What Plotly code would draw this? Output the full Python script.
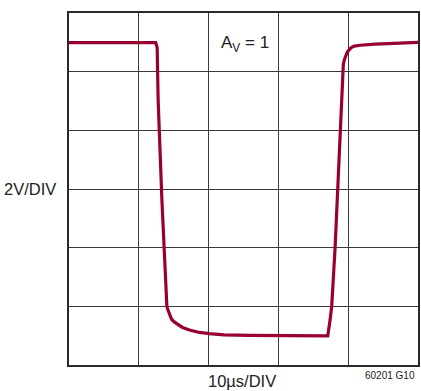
import plotly.graph_objects as go

# Scope trace: large-signal step response, unity gain (time in µs, output in V)
time_us = [0.0, 6.0, 11.6, 12.2, 12.42, 12.63, 12.77, 13.31, 13.60, 13.80, 14.02,
           14.13, 14.41, 14.69, 15.12, 15.55, 16.26, 17.25, 18.67, 20.10, 22.23,
           25.79, 32.90, 37.03,
           37.07, 37.41, 37.64, 38.12, 38.49, 38.83, 39.16, 39.30, 39.45, 39.66,
           39.87, 40.16, 40.44, 40.87, 41.72, 43.86, 47.13, 50.0]
vout_v = [4.99, 5.00, 5.00, 5.00, 4.99, 4.82, 3.04, -0.37, -2.08, -3.10, -3.99,
          -4.09, -4.30, -4.44, -4.54, -4.62, -4.72, -4.81, -4.89, -4.93, -4.97,
          -4.99, -5.01, -5.01,
          -5.01, -4.46, -3.99, -2.01, 0.00, 1.99, 4.00, 4.24, 4.41, 4.55,
          4.67, 4.75, 4.82, 4.87, 4.90, 4.94, 4.97, 5.00]

x_label = "10µs/DIV"
y_label = "2V/DIV"
gain_label = "A<sub>V</sub> = 1"
figure_id = "60201 G10"

FONT = "Liberation Sans, Arial, sans-serif"
TRACE = "#9a002f"
GRID = "#3a3a3a"

fig = go.Figure()
fig.add_trace(go.Scatter(x=time_us, y=vout_v, mode="lines",
                         line=dict(color=TRACE, width=3.2),
                         hoverinfo="skip", showlegend=False))

axis_common = dict(showgrid=True, gridcolor=GRID, gridwidth=1, zeroline=False,
                   showline=True, linecolor="#2a2a2a", linewidth=1.5, mirror=True,
                   showticklabels=False, ticks="", fixedrange=True)
fig.update_xaxes(range=[0, 50], dtick=10, tick0=0, **axis_common)
fig.update_yaxes(range=[-6, 6], dtick=2, tick0=-6, **axis_common)

fig.add_annotation(text=y_label, xref="paper", yref="paper", x=0, y=0.5,
                   xanchor="right", yanchor="middle", xshift=-11, showarrow=False,
                   font=dict(family=FONT, size=16.5, color="#222"))
fig.add_annotation(text=x_label, xref="paper", yref="paper", x=0.497, y=0,
                   xanchor="center", yanchor="top", yshift=-5, showarrow=False,
                   font=dict(family=FONT, size=16.5, color="#222"))
fig.add_annotation(text=figure_id, xref="paper", yref="paper", x=1, y=0,
                   xanchor="right", yanchor="top", yshift=-3, xshift=-1, showarrow=False,
                   font=dict(family=FONT, size=10, color="#222"))
fig.add_annotation(text=gain_label, xref="paper", yref="paper", x=0.503, y=0.913,
                   xanchor="center", yanchor="middle", showarrow=False,
                   font=dict(family=FONT, size=17, color="#222"))

fig.update_layout(width=421, height=391, margin=dict(l=69, r=1, t=13, b=26),
                  paper_bgcolor="white", plot_bgcolor="white")

fig.write_html("out.html")
